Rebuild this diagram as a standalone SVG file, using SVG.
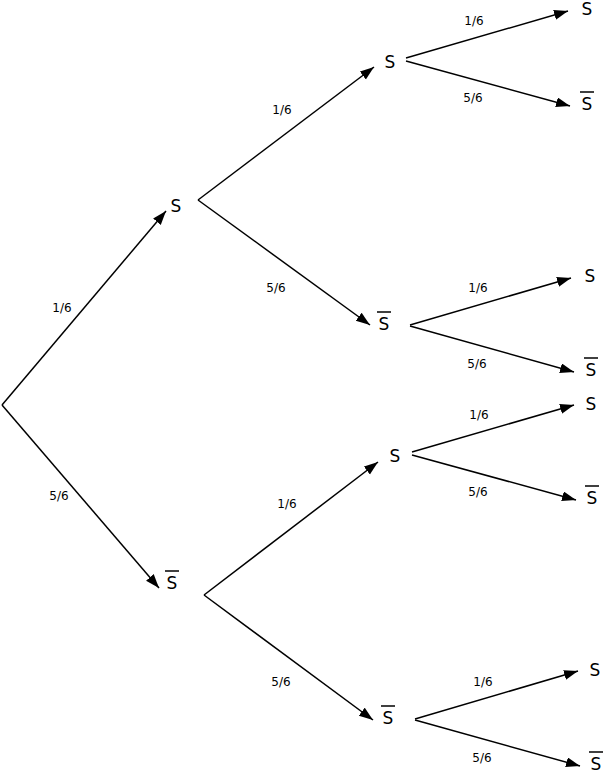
<svg xmlns="http://www.w3.org/2000/svg" width="608" height="777" viewBox="0 0 608 777">
<style>
.n{font-family:"DejaVu Sans",sans-serif;font-size:17px;fill:#000;text-anchor:middle}
.p{font-family:"DejaVu Sans",sans-serif;font-size:12px;fill:#000;text-anchor:middle}
.e{stroke:#000;stroke-width:1.5;fill:none;marker-end:url(#ah)}
.o{stroke:#000;stroke-width:1.5}
</style>
<defs>
<marker id="ah" markerUnits="userSpaceOnUse" markerWidth="16" markerHeight="12" refX="14" refY="5" orient="auto">
<path d="M0,0 L14,5 L0,10 z" fill="#000"/>
</marker>
</defs>
<rect width="608" height="777" fill="#fff"/>
<g id="connectors">
<line class="e" x1="2" y1="405" x2="166" y2="211"/>
<line class="e" x1="2" y1="405" x2="159" y2="588"/>
<line class="e" x1="198" y1="200" x2="374" y2="67"/>
<line class="e" x1="198" y1="200" x2="370" y2="325"/>
<line class="e" x1="204" y1="595" x2="378" y2="462"/>
<line class="e" x1="204" y1="595" x2="373" y2="720"/>
<line class="e" x1="406" y1="58" x2="568" y2="11"/>
<line class="e" x1="406" y1="61" x2="570" y2="106"/>
<line class="e" x1="410" y1="325" x2="571" y2="278"/>
<line class="e" x1="410" y1="326" x2="574" y2="372"/>
<line class="e" x1="412" y1="452" x2="574" y2="405"/>
<line class="e" x1="412" y1="455" x2="576" y2="500"/>
<line class="e" x1="415" y1="719" x2="578" y2="671"/>
<line class="e" x1="415" y1="720" x2="580" y2="766"/>
</g>
<g id="labels">
<text class="p" x="62" y="312">1/6</text>
<text class="p" x="59" y="500">5/6</text>
<text class="p" x="282" y="114">1/6</text>
<text class="p" x="276" y="292">5/6</text>
<text class="p" x="287" y="508">1/6</text>
<text class="p" x="281" y="686">5/6</text>
<text class="p" x="474" y="25">1/6</text>
<text class="p" x="473" y="102">5/6</text>
<text class="p" x="478" y="292">1/6</text>
<text class="p" x="477" y="368">5/6</text>
<text class="p" x="479" y="419">1/6</text>
<text class="p" x="478" y="496">5/6</text>
<text class="p" x="483" y="686">1/6</text>
<text class="p" x="482" y="762">5/6</text>
</g>
<g id="n-a"><text class="n" x="176" y="212">S</text></g>
<g id="n-b"><text class="n" x="172" y="589">S</text><line class="o" x1="165" y1="571" x2="179" y2="571"/></g>
<g id="n-aa"><text class="n" x="390" y="68">S</text></g>
<g id="n-ab"><text class="n" x="384" y="330">S</text><line class="o" x1="377" y1="312" x2="391" y2="312"/></g>
<g id="n-ba"><text class="n" x="395" y="462">S</text></g>
<g id="n-bb"><text class="n" x="388" y="724">S</text><line class="o" x1="381" y1="706" x2="395" y2="706"/></g>
<g id="n-aaa"><text class="n" x="587" y="15">S</text></g>
<g id="n-aab"><text class="n" x="587" y="110">S</text><line class="o" x1="580" y1="92" x2="594" y2="92"/></g>
<g id="n-aba"><text class="n" x="590" y="282">S</text></g>
<g id="n-abb"><text class="n" x="591" y="376">S</text><line class="o" x1="584" y1="358" x2="598" y2="358"/></g>
<g id="n-baa"><text class="n" x="591" y="410">S</text></g>
<g id="n-bab"><text class="n" x="592" y="504">S</text><line class="o" x1="585" y1="486" x2="599" y2="486"/></g>
<g id="n-bba"><text class="n" x="595" y="676">S</text></g>
<g id="n-bbb"><text class="n" x="596" y="770">S</text><line class="o" x1="589" y1="752" x2="603" y2="752"/></g>
</svg>
